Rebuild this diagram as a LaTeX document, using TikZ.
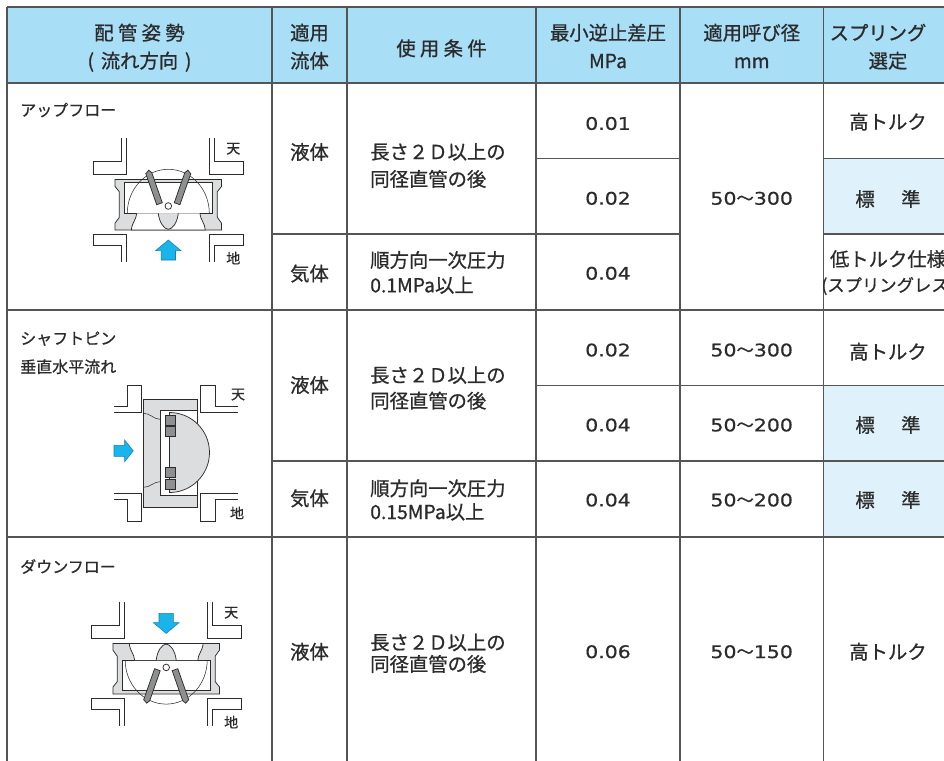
\documentclass[tikz,border=0pt]{standalone}
\usepackage{fontspec}
\setmainfont{Noto Sans CJK JP}[RawFeature={embolden=0.8}]
\newfontfamily\numfont[FakeStretch=1.18, RawFeature={embolden=0.6}]{DejaVu Sans}
\newfontfamily\cjkfont[RawFeature={embolden=0.8}]{Noto Sans CJK JP}
\newcommand\wave{{\cjkfont 〜}}

\definecolor{headblue}{HTML}{A9DEF7}
\definecolor{stdblue}{HTML}{DFF1FA}
\definecolor{flowblue}{HTML}{19B5EA}
\definecolor{flowedge}{HTML}{1680B0}
\definecolor{bodygray}{HTML}{DCDDDE}
\definecolor{plategray}{HTML}{8E8F90}
\definecolor{linegray}{HTML}{555555}
\definecolor{ink}{HTML}{2B2B2B}

\tikzset{
  tabline/.style={draw=linegray, line width=0.9pt},
  txt/.style={inner sep=0pt, text height=11pt, text depth=0pt, text=ink, font=\fontsize{14.5}{17}\selectfont},
  num/.style={txt, text height=9.5pt, font=\fontsize{13}{16}\numfont},
  sub/.style={txt, anchor=west, text height=9.1pt, font=\fontsize{12}{14}\selectfont},
  tag/.style={txt, text height=8pt, font=\fontsize{10.5}{12}\selectfont},
  pipe/.style={draw=ink, line width=0.65pt},
  part/.style={draw=ink, line width=0.55pt},
  hairline/.style={draw=ink, line width=0.4pt},
  flow/.style={fill=flowblue, draw=flowedge, line width=0.4pt},
}

\begin{document}
\begin{tikzpicture}[x=0.75pt, y=-0.75pt]
  \useasboundingbox (0,0) rectangle (944,760);
  \clip (0,0) rectangle (944,760);

  % table
  \fill[headblue] (7,7) rectangle (953,83);
  \foreach \ya/\yb in {158.5/234, 385.5/461, 461/537}
    \fill[stdblue] (823.5,\ya) rectangle (953,\yb);
  \foreach \y in {7,83,310,537}
    \draw[tabline] (7,\y) -- (953,\y);
  \draw[tabline] (536,158.5) -- (680,158.5) (823.5,158.5) -- (953,158.5);
  \draw[tabline] (272,234) -- (680,234) (823.5,234) -- (953,234);
  \draw[tabline] (536,385.5) -- (953,385.5);
  \draw[tabline] (272,461) -- (953,461);
  \foreach \x in {7,272,347,536,680,823.5,953}
    \draw[tabline] (\x,7) -- (\x,770);

  % header
  \foreach \n/\x/\y/\t in {h0a/139.5/32.7/{配 管 姿 勢}, h0b/139.5/60.7/{(\hspace{.35em}流れ方向\hspace{.35em})},
      h1a/309.5/32.7/適用, h1b/309.5/60.7/流体, h2/441.5/48.3/{使 用 条 件},
      h3a/608/32.7/最小逆止差圧, h3b/608/60.7/MPa, h4a/751.7/32.7/適用呼び径,
      h4b/751.7/60.7/mm, h5a/878/32.7/スプリング, h5b/888/60.7/選定}
    \node[txt] (\n) at (\x,\y) {\t};

  % fluid
  \foreach \n/\y/\t in {f1/152/液体, f2/273.5/気体, f3/385/液体, f4/498.3/気体, f5/651.7/液体}
    \node[txt] (\n) at (309.5,\y) {\t};

  % conditions
  \foreach \n/\y/\t in {c1a/151.7/長さ２Ｄ以上の, c1b/179/同径直管の後,
      c2a/260/順方向一次圧力, c2b/285/0.1MPa以上,
      c3a/375/長さ２Ｄ以上の, c3b/400.7/同径直管の後,
      c4a/488.3/順方向一次圧力, c4b/511.7/0.15MPa以上,
      c5a/642.3/長さ２Ｄ以上の, c5b/664/同径直管の後}
    \node[txt, anchor=west] (\n) at (370,\y) {\t};

  % minimum pressure
  \foreach \n/\y/\t in {p1/123.5/0.01, p2/198.3/0.02, p3/273.3/0.04, p4/350/0.02,
      p5/425/0.04, p6/500/0.04, p7/651.7/0.06}
    \node[num] (\n) at (608,\y) {\t};

  % nominal size
  \foreach \n/\y/\a/\b in {d1/198.3/50/300, d2/350/50/300, d3/425/50/200,
      d4/500/50/200, d5/651.7/50/150}
    \node[num] (\n) at (751.7,\y) {\a\wave\b};

  % spring
  \foreach \n/\y/\t in {s1/121.7/高トルク, s2/199/{標\hspace{1.37em}準}, s3a/259/低トルク仕様,
      s4/351.7/高トルク, s5/425/{標\hspace{1.37em}準}, s6/500/{標\hspace{1.37em}準},
      s7/651.7/高トルク}
    \node[txt] (\n) at (888,\y) {\t};
  \node[txt, text height=9.9pt, font=\fontsize{13}{15}\selectfont] (s3b) at (888,285) {(スプリングレス)};

  % piping names
  \node[sub] (g1) at (20,110) {アップフロー};
  \node[sub] (g2a) at (20,338.3) {シャフトピン};
  \node[sub] (g2b) at (20,366.7) {垂直水平流れ};
  \node[sub] (g3) at (20,566.7) {ダウンフロー};

  % up flow / down flow
  \foreach \cx/\cy/\fl/\k in {168.3/204.7/1/a, 166.2/668.7/-1/c}{
    \begin{scope}[shift={(\cx,\cy)}]
      \foreach \s in {1,-1}{
        \draw[pipe] (\s*46.5,-67) -- (\s*46.5,-43) -- (\s*75,-43) -- (\s*75,-30) -- (\s*41.5,-30) -- (\s*41.5,-67);
        \draw[pipe] (\s*46.5,57) -- (\s*46.5,40.5) -- (\s*75,40.5) -- (\s*75,29.5) -- (\s*41.5,29.5) -- (\s*41.5,57);
      }
      \node[tag] (ten\k) at (65,-56.5) {天};
      \node[tag] (chi\k) at (65,53.5) {地};
      \begin{scope}[yscale=\fl]
        \filldraw[part, fill=bodygray] (-53.3,-25.3) -- (53.3,-25.3) -- (53.3,-18.3) -- (49,-13) -- (49,12.6)
          -- (53.3,18.6) -- (53.3,25.3) -- (-53.3,25.3) -- (-53.3,18.6) -- (-49,12.6) -- (-49,-13) -- (-53.3,-18.3) -- cycle;
        \filldraw[part, fill=white] (-44,-22) rectangle (44,8.6);
        \filldraw[part, fill=white] (-31.6,8.6) .. controls (-32,15) and (-36,17) .. (-37,25.3)
          -- (37,25.3) .. controls (36,17) and (32,15) .. (31.6,8.6);
        \filldraw[part, fill=bodygray] (-10,8.6) .. controls (-9,18) and (-4,24.6) .. (0,24.6)
          .. controls (4,24.6) and (9,18) .. (10,8.6);
        \draw[hairline] (-41,8.6) arc[start angle=180, end angle=360, x radius=41, y radius=44];
        \foreach \s in {1,-1}
          \filldraw[part, fill=plategray] (\s*-19.5,-34.5) -- (\s*-16.5,-32) -- (\s*-6,-2) -- (\s*-11.6,0) -- (\s*-22.5,-31) -- cycle;
        \filldraw[part, fill=white] (0,1.3) circle[radius=3.3];
        \filldraw[flow] (0,35.3) -- (12.8,46) -- (7.2,46) -- (7.2,55.3) -- (-7.2,55.3) -- (-7.2,46) -- (-12.8,46) -- cycle;
      \end{scope}
    \end{scope}
  }

  % shaft pin
  \begin{scope}[shift={(170.3,453)}]
    \foreach \t in {1,-1}{
      \draw[pipe] (-56,\t*-46.3) -- (-43,\t*-46.3) -- (-43,\t*-68) -- (-28.6,\t*-68) -- (-28.6,\t*-40.7) -- (-56,\t*-40.7);
      \draw[pipe] (67.7,\t*-46.3) -- (44.7,\t*-46.3) -- (44.7,\t*-68) -- (29.7,\t*-68) -- (29.7,\t*-40.7) -- (67.7,\t*-40.7);
    }
    \filldraw[part, fill=bodygray] (-27,-54) rectangle (27,54.5);
    \draw[hairline] (-27,-39.7) .. controls (-20,-40) and (-17,-33.7) .. (-10.3,-33.7);
    \draw[hairline] (-27,34.3) .. controls (-20,34.6) and (-17,28.7) .. (-10.3,28.7);
    \filldraw[part, fill=white] (-10.3,-42.3) rectangle (27,42);
    \filldraw[part, fill=bodygray] (-0.8,-40.5) arc[start angle=-90, end angle=90, radius=40] -- cycle;
    \foreach \ya in {-38,-26.3,14,26}
      \filldraw[part, fill=plategray] (-5.3,\ya) rectangle (4.7,\ya+10);
    \filldraw[flow] (-37,-2.2) -- (-45.6,-13) -- (-45.6,-7.7) -- (-56.3,-7.7) -- (-56.3,3.3) -- (-45.6,3.3) -- (-45.6,8.6) -- cycle;
    \node[tag] (tenb) at (67.7,-59) {天};
    \node[tag] (chib) at (66.7,60) {地};
  \end{scope}
\end{tikzpicture}
\end{document}
